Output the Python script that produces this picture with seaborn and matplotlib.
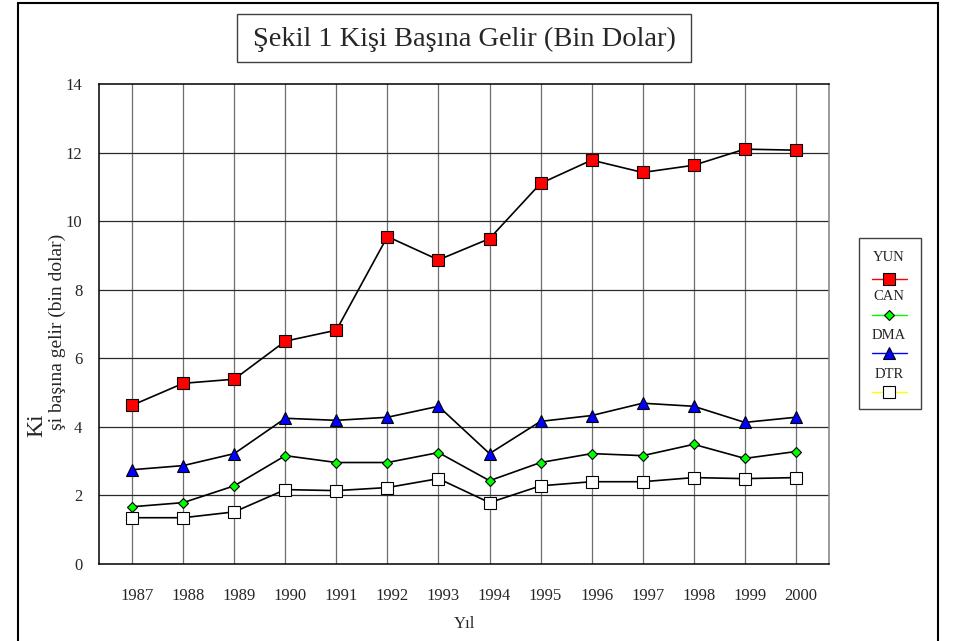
import numpy as np
import pandas as pd
import seaborn as sns
import matplotlib.pyplot as plt
from matplotlib.patches import Rectangle
from matplotlib.lines import Line2D
from matplotlib.transforms import ScaledTranslation

# data
years = ["1987", "1988", "1989", "1990", "1991", "1992", "1993",
         "1994", "1995", "1996", "1997", "1998", "1999", "2000"]
yun = [4.63, 5.27, 5.39, 6.50, 6.82, 9.55, 8.87, 9.49, 11.10, 11.78, 11.42, 11.63, 12.10, 12.07]
can = [1.67, 1.79, 2.28, 3.16, 2.96, 2.96, 3.25, 2.43, 2.96, 3.22, 3.16, 3.49, 3.08, 3.28]
dma = [2.75, 2.87, 3.22, 4.25, 4.19, 4.28, 4.60, 3.22, 4.16, 4.33, 4.69, 4.60, 4.13, 4.28]
dtr = [1.35, 1.35, 1.52, 2.17, 2.14, 2.23, 2.49, 1.79, 2.28, 2.40, 2.40, 2.52, 2.49, 2.52]
series_names = ["YUN", "CAN", "DMA", "DTR"]
y_ticks = [0, 2, 4, 6, 8, 10, 12, 14]

df = pd.DataFrame({"Yil": years, "YUN": yun, "CAN": can, "DMA": dma, "DTR": dtr})

W, H = 962, 641
sns.set_style("white")
plt.rcParams["font.family"] = ["Liberation Serif", "DejaVu Serif"]

fig = plt.figure(figsize=(W / 100, H / 100), dpi=100)

def fx(px):
    return px / W

def fy(py):
    return 1 - py / H

# plot area in pixels: left 99, right 829, top 84, bottom 564
ax = fig.add_axes([fx(99), fy(564), fx(829) - fx(99), fy(84) - fy(564)])

# marker styles per series: marker, face, size, legend line colour
styles = {
    "YUN": ("s", "#ff0000", 9, "#ff0000"),
    "CAN": ("D", "#00ff00", 5, "#00ff00"),
    "DMA": ("^", "#0000ff", 8.5, "#0000ff"),
    "DTR": ("s", "#ffffff", 9, "#ffff00"),
}

for name in series_names:
    m, fc, ms, lc = styles[name]
    sns.lineplot(data=df, x="Yil", y=name, ax=ax, color="black", linewidth=1.2,
                 marker=m, markerfacecolor=fc, markeredgecolor="black",
                 markeredgewidth=0.8, markersize=ms, zorder=3)

ax.set_xlim(-0.65, len(years) - 1 + 0.65)
ax.set_ylim(0, 14)
ax.set_yticks(y_ticks)
ax.set_yticklabels([str(t) for t in y_ticks])

# grid
for i in range(len(years)):
    ax.axvline(i, color="#6e6e6e", linewidth=0.9, zorder=1)
for t in y_ticks[1:-1]:
    ax.axhline(t, color="#2a2a2a", linewidth=0.9, zorder=1)

ax.tick_params(axis="both", length=0, labelsize=12)
ax.tick_params(axis="y", pad=12)
ax.tick_params(axis="x", pad=17)
# year labels sit a little right of their grid lines
shift = ScaledTranslation(5 / 100, 0, fig.dpi_scale_trans)
for lab in ax.get_xticklabels():
    lab.set_transform(lab.get_transform() + shift)
ax.set_xlabel("Yıl", fontsize=12, labelpad=9)
ax.set_ylabel("")

for side in ["left", "bottom", "top"]:
    ax.spines[side].set_color("black")
    ax.spines[side].set_linewidth(1.1)
ax.spines["right"].set_color("#808080")
ax.spines["right"].set_linewidth(1.1)

# y label (rendered broken in the original)
fig.text(fx(37), fy(425), "Ki", rotation=90, fontsize=17, ha="center", va="center")
fig.text(fx(57), fy(430), "şi başına gelir (bin dolar)", rotation=90, fontsize=14,
         ha="center", va="bottom")

# outer frame
fig.add_artist(Rectangle((fx(18), -0.05), fx(938) - fx(18), fy(3) + 0.05,
                         transform=fig.transFigure, fill=False,
                         edgecolor="black", linewidth=1.5))

# title box
fig.add_artist(Rectangle((fx(237), fy(62)), fx(691) - fx(237), fy(14) - fy(62),
                         transform=fig.transFigure, fill=False,
                         edgecolor="#404040", linewidth=1.0))
fig.text(fx(464), fy(39), "Şekil 1 Kişi Başına Gelir (Bin Dolar)", fontsize=20.5,
         ha="center", va="center")

# legend box: labels above the handles
fig.add_artist(Rectangle((fx(859), fy(409)), fx(921) - fx(859), fy(238) - fy(409),
                         transform=fig.transFigure, fill=False,
                         edgecolor="#404040", linewidth=1.0))
text_y = [258, 297, 335, 374]
line_y = [279, 315, 353, 392]
for name, ty, ly in zip(series_names, text_y, line_y):
    m, fc, ms, lc = styles[name]
    fig.text(fx(889), fy(ty), name, fontsize=10.5, ha="center", va="center")
    fig.add_artist(Line2D([fx(872), fx(907)], [fy(ly), fy(ly)], transform=fig.transFigure,
                          color=lc, linewidth=1.0))
    fig.add_artist(Line2D([fx(889.5)], [fy(ly)], transform=fig.transFigure,
                          linestyle="none", marker=m, markerfacecolor=fc,
                          markeredgecolor="black", markeredgewidth=0.8,
                          markersize=ms))

fig.savefig("out.png", dpi=100)
